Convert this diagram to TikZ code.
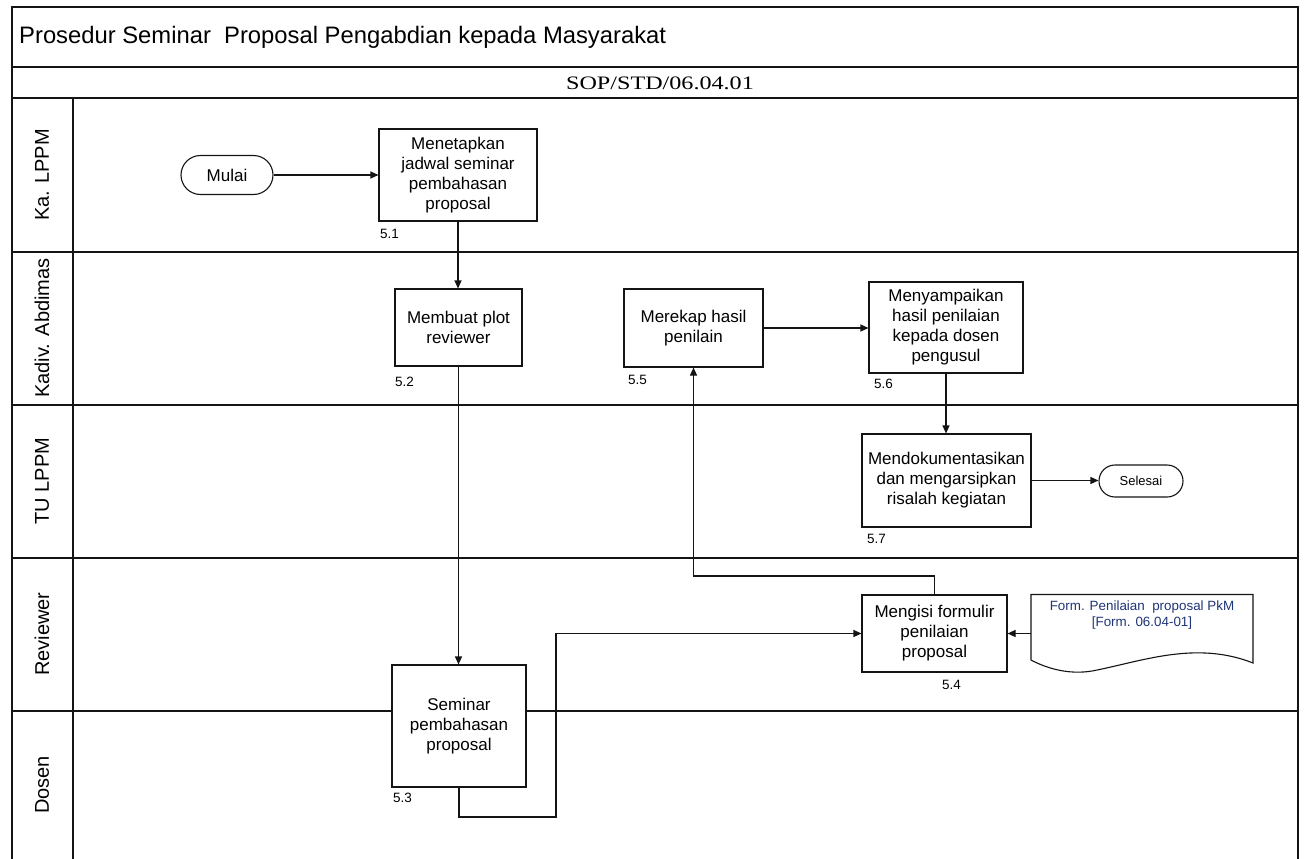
\documentclass[tikz,border=0pt]{standalone}
\usepackage{fontspec}
\setmainfont{Liberation Sans}
\newfontfamily\sopfont{Liberation Serif}
\usetikzlibrary{arrows.meta,shapes.misc}
\definecolor{docblue}{RGB}{32,52,120}
\definecolor{linegray}{RGB}{20,20,20}
\begin{document}
\begin{tikzpicture}[x=1pt,y=-1pt,
  frame/.style={line width=1.3pt,draw=linegray},
  proc/.style={draw=linegray,fill=white,line width=1.1pt,align=center,inner sep=0pt,
    font=\fontsize{17}{20}\selectfont},
  term/.style={draw=linegray,fill=white,line width=1.1pt,rounded rectangle,inner sep=0pt},
  num/.style={anchor=west,inner sep=0pt,font=\fontsize{13.5}{15}\selectfont},
  lanelabel/.style={rotate=90,inner sep=0pt,font=\fontsize{20}{24}\selectfont},
  arr/.style={line width=1.1pt,draw=linegray,-{Triangle[length=8pt,width=7pt]}},
  ln/.style={line width=1.1pt,draw=linegray}]
\useasboundingbox (0,0) rectangle (1304,859);
\fill[white] (0,0) rectangle (1304,859);
% frame
\draw[frame] (12,859) -- (12,7) -- (1298,7) -- (1298,859);
\foreach \yy in {67,98,252,405,558,711} \draw[frame] (12,\yy) -- (1298,\yy);
\draw[frame] (73,98) -- (73,859);
% header texts
\node[anchor=west,inner sep=0pt,font=\fontsize{23.8}{28}\selectfont] (title) at (19,37)
  {Prosedur Seminar\ \ Proposal Pengabdian kepada Masyarakat};
\node[inner sep=0pt,font=\sopfont\fontsize{19}{22}\selectfont] (sop) at (660,83)
  {\scalebox{1.27}[1]{SOP/STD/06.04.01}};
% lane labels
\node[lanelabel] (l1) at (42,175) {Ka. LPPM};
\node[lanelabel] (l2) at (42,328) {Kadiv. Abdimas};
\node[lanelabel] (l3) at (42,481) {TU LPPM};
\node[lanelabel] (l4) at (42,634) {Reviewer};
\node[lanelabel] (l5) at (42,785) {Dosen};
% connectors (drawn before boxes)
\coordinate (c1) at (556,817);
\coordinate (c2) at (934.5,576);
% terminals
\node[term,minimum width=92pt,minimum height=39pt,font=\fontsize{17}{20}\selectfont] (mulai) at (227,175) {Mulai};
\node[term,minimum width=84pt,minimum height=32pt,font=\fontsize{13}{15}\selectfont] (selesai) at (1141,481) {Selesai};
% processes
\node[proc,minimum width=158pt,minimum height=92pt] (p1) at (458,175) {Menetapkan\\jadwal seminar\\pembahasan\\proposal};
\node[proc,minimum width=127pt,minimum height=77pt] (p2) at (458.5,327.5) {Membuat plot\\reviewer};
\node[proc,minimum width=134pt,minimum height=122pt] (p3) at (459,726) {Seminar\\pembahasan\\proposal};
\node[proc,minimum width=145pt,minimum height=77pt] (p4) at (934.5,633.5) {Mengisi formulir\\penilaian\\proposal};
\node[proc,minimum width=139pt,minimum height=78pt] (p5) at (693.5,328) {Merekap hasil\\penilain};
\node[proc,minimum width=154pt,minimum height=91pt] (p6) at (946,327.5) {Menyampaikan\\hasil penilaian\\kepada dosen\\pengusul};
\node[proc,minimum width=169pt,minimum height=93pt] (p7) at (946.5,480.5) {Mendokumentasikan\\dan mengarsipkan\\risalah kegiatan};
% numbers
\node[num] (n1) at (380,234) {5.1};
\node[num] (n2) at (395,382) {5.2};
\node[num] (n3) at (393,798) {5.3};
\node[num] (n4) at (942,685) {5.4};
\node[num] (n5) at (628,380) {5.5};
\node[num] (n6) at (874,384) {5.6};
\node[num] (n7) at (867,539) {5.7};
% document
\node[minimum width=222pt,minimum height=67pt,inner sep=0pt] (doc) at (1142,628) {};
\draw[ln,fill=white] (1031,660) -- (1031,594.5) -- (1253,594.5) -- (1253,663)
  .. controls (1195,640) and (1140,662) .. (1092,671)
  .. controls (1068,675) and (1046,668) .. (1031,660) -- cycle;
\node[align=center,inner sep=0pt,text=docblue,font=\fontsize{13.4}{16}\selectfont] (doctext) at (1142,615)
  {Form. Penilaian\ \ proposal PkM\\{[Form. 06.04-01]}};
% connectors
\draw[arr] (mulai.east) -- (p1.west |- mulai.east);
\draw[arr] (p1.south) -- (p1.south |- p2.north);
\draw[arr] (p2.south) -- (p2.south |- p3.north);
\draw[arr] (p3.south) |- (c1) |- (p4.west);
\draw[arr] (p4.north) -- (c2) -| (p5.south);
\draw[arr] (p5.east) -- (p5.east -| p6.west);
\draw[arr] (p6.south) -- (p6.south |- p7.north);
\draw[arr] (p7.east) -- (selesai.west |- p7.east);
\draw[arr] (doc.west |- p4.east) -- (p4.east);
\end{tikzpicture}
\end{document}
